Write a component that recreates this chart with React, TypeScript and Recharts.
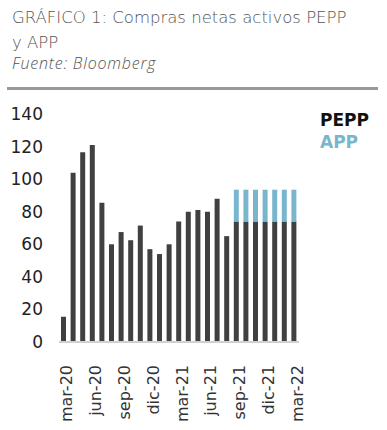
import React from "react";
import { BarChart, Bar, XAxis, YAxis, Legend } from "recharts";

const months = [
  "mar-20", "abr-20", "may-20", "jun-20", "jul-20", "ago-20", "sep-20",
  "oct-20", "nov-20", "dic-20", "ene-21", "feb-21", "mar-21", "abr-21",
  "may-21", "jun-21", "jul-21", "ago-21", "sep-21", "oct-21", "nov-21",
  "dic-21", "ene-22", "feb-22", "mar-22",
];
const pepp = [
  15.5, 104, 116.5, 121, 85.5, 60, 67.5, 62.5, 71.5, 57, 54, 60, 74, 80,
  81, 80, 88, 65, 74, 74, 74, 74, 74, 74, 74,
];
const app = [
  null, null, null, null, null, null, null, null, null, null, null, null,
  null, null, null, null, null, null, 19.5, 19.5, 19.5, 19.5, 19.5, 19.5, 19.5,
];
const yTicks = [0, 20, 40, 60, 80, 100, 120, 140];

const FONT = "'DejaVu Sans', sans-serif";

const data = months.map((m, i) => ({ month: m, pepp: pepp[i], app: app[i] }));

const XTick = (props: any) => {
  const { x, y, payload } = props;
  return (
    <text
      transform={`translate(${x + 3},${y + 15}) rotate(-90)`}
      textAnchor="end"
      dominantBaseline="central"
      fontFamily={FONT}
      fontSize={16}
      fill="#333"
    >
      {payload.value}
    </text>
  );
};

const LegendBox = () => (
  <div style={{ fontFamily: FONT, fontSize: 17, fontWeight: 600, lineHeight: "22px" }}>
    <div style={{ color: "#111" }}>PEPP</div>
    <div style={{ color: "#79b6cd" }}>APP</div>
  </div>
);

export default function App() {
  return (
    <div style={{ position: "absolute", left: 0, top: 0, width: 387, height: 430, background: "#fff" }}>
      <div style={{ position: "absolute", left: 12, top: 5, width: 375, whiteSpace: "nowrap", fontFamily: FONT, fontWeight: 300, color: "#555", fontSize: 16.5, lineHeight: "25px" }}>
        GRÁFICO 1: Compras netas activos PEPP
        <br />
        y APP
      </div>
      <div style={{ position: "absolute", left: 12, top: 52, fontFamily: "'Open Sans', sans-serif", fontWeight: 300, color: "#555", fontSize: 16, letterSpacing: 0.8, fontStyle: "italic" }}>
        Fuente: Bloomberg
      </div>
      <div style={{ position: "absolute", left: 7, top: 87, width: 371, height: 3, background: "#999" }} />
      <div style={{ position: "absolute", left: 0, top: 0 }}>
        <BarChart width={387} height={430} data={data} margin={{ top: 114, right: 21, bottom: 0, left: 0 }} barCategoryGap={0}>
          <XAxis
            dataKey="month"
            interval={2}
            height={88}
            tick={<XTick />}
            tickLine={false}
            axisLine={{ stroke: "#d0d0d0", strokeWidth: 2 }}
          />
          <YAxis
            width={59}
            domain={[0, 140]}
            ticks={yTicks}
            axisLine={false}
            tickLine={false}
            tickSize={0}
            tickMargin={16}
            tick={{ fontFamily: FONT, fontSize: 17, fill: "#222" }}
          />
          <Legend
            layout="vertical"
            verticalAlign="top"
            align="right"
            wrapperStyle={{ top: 109, left: 320, width: 67 }}
            content={<LegendBox />}
          />
          <Bar dataKey="pepp" stackId="a" fill="#404040" barSize={5} isAnimationActive={false} />
          <Bar dataKey="app" stackId="a" fill="#79b6cd" barSize={5} isAnimationActive={false} />
        </BarChart>
      </div>
    </div>
  );
}
